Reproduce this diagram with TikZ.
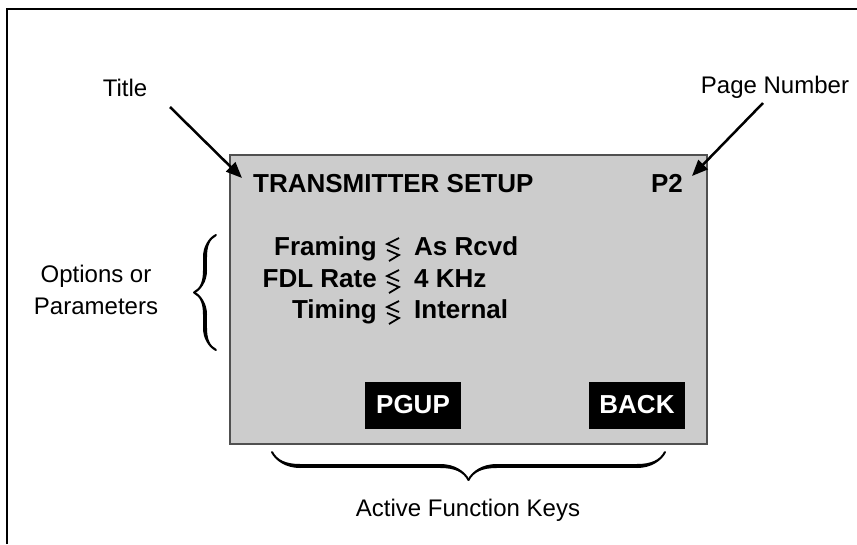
\documentclass[tikz,border=0pt]{standalone}
\usepackage{fontspec}
\setmainfont{Liberation Sans}
\usetikzlibrary{arrows.meta, positioning, decorations.pathreplacing, calligraphy}
\definecolor{screengray}{RGB}{204,204,204}
\definecolor{rimgray}{RGB}{80,80,80}
\newcommand{\lbl}{\fontsize{24}{28}\selectfont}
\newcommand{\scr}{\fontsize{26}{31}\selectfont\bfseries}

\begin{document}
\begin{tikzpicture}[x=1pt, y=-1pt,
  callout/.style={font=\lbl, inner sep=0pt},
  field/.style={font=\scr, inner sep=0pt},
  fkey/.style={fill=black, text=white, font=\scr, minimum width=96pt, minimum height=47pt, inner sep=0pt},
  pointer/.style={line width=2.5pt, -{Triangle[length=16pt, width=13pt]}},
  curly/.style={heavy line width=4pt, light line width=1pt, line width=4pt, decorate, decoration={calligraphic brace, amplitude=#1}},
  pics/selsym/.style={code={
    \draw[line width=1.8pt, line join=miter] (15,0) -- (3,6) -- (15,11);
    \draw[line width=1.8pt, line join=miter] (3,12) -- (15,17) -- (5,23);
  }}]

  \useasboundingbox (0,0) rectangle (857,544);
  \draw[line width=1.2pt] (7,544) -- (7,9) -- (857,9);

  % screen
  \node[draw=rimgray, line width=2pt, fill=screengray, minimum width=477pt, minimum height=289pt, inner sep=0pt, anchor=north west] (scr) at (229,154) {};

  \node[field, anchor=base west] (head) at (253,192) {TRANSMITTER SETUP};
  \node[field, anchor=base east] (pg) at (683,192) {P2};

  \node[field, anchor=base east] (L1) at (377,255) {Framing};
  \node[field, anchor=base east] (L2) at (377,287) {FDL Rate};
  \node[field, anchor=base east] (L3) at (377,318) {Timing};
  \pic at (384,238) {selsym};
  \pic at (384,270) {selsym};
  \pic at (384,301) {selsym};
  \node[field, anchor=base west] (V1) at (414,255) {As Rcvd};
  \node[field, anchor=base west] (V2) at (414,287) {4 KHz};
  \node[field, anchor=base west] (V3) at (414,318) {Internal};

  \node[fkey] (pgup) at (413,405) {PGUP};
  \node[fkey] (back) at (637,405) {BACK};

  % callouts
  \node[callout, anchor=base] (title) at (125,96) {Title};
  \node[callout, anchor=base] (pagenum) at (775,93) {Page Number};
  \node[callout, align=center] (opts) at (96,290) {Options or\\[4pt]Parameters};
  \node[callout, anchor=base] (keys) at (468,516) {Active Function Keys};

  \coordinate (t0) at (170,107);
  \coordinate (t1) at (242,178);
  \coordinate (p0) at (763,103);
  \coordinate (p1) at (692,176);
  \draw[pointer] (t0) -- (t1);
  \draw[pointer] (p0) -- (p1);

  \coordinate (ob) at (216,350);
  \coordinate (ot) at (216,235);
  \draw[curly=22pt] (ob) -- (ot);

  \coordinate (kr) at (665,452);
  \coordinate (kl) at (272,452);
  \draw[curly=28pt] (kr) -- (kl);

\end{tikzpicture}
\end{document}
